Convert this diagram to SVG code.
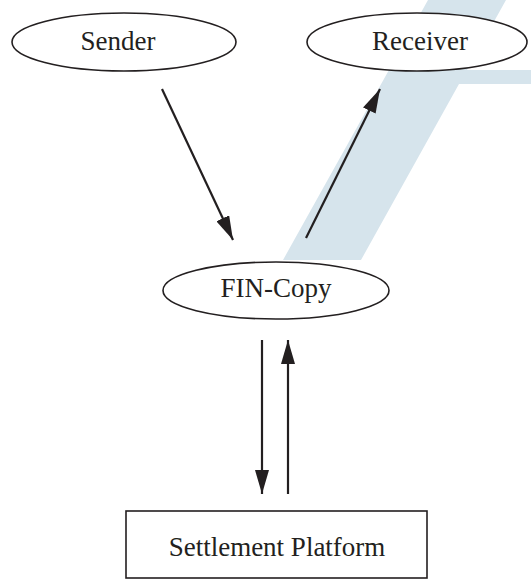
<svg xmlns="http://www.w3.org/2000/svg" width="531" height="579" viewBox="0 0 531 579">
  <defs>
    <marker id="ah" viewBox="0 0 24 14" refX="24" refY="7" markerWidth="24" markerHeight="14" markerUnits="userSpaceOnUse" orient="auto">
      <path d="M0,0 L24,7 L0,14 z" fill="#231f20"/>
    </marker>
    <style>
      .node { fill: #ffffff; stroke: #231f20; stroke-width: 1.6; }
      .lbl { font-family: "Liberation Serif", "Times New Roman", serif; font-size: 27px; fill: #231f20; text-anchor: middle; }
      .conn { stroke: #231f20; stroke-width: 2.2; fill: none; marker-end: url(#ah); }
    </style>
  </defs>
  <rect x="0" y="0" width="531" height="579" fill="#ffffff"/>
  <polygon id="band" points="428,0 506,0 467,70 531,70 531,84 459,84 361,260 283,260" fill="#d6e4ec"/>
  <g id="sender">
    <ellipse class="node" cx="124" cy="42" rx="112" ry="29"/>
    <text class="lbl" x="118" y="50">Sender</text>
  </g>
  <g id="receiver">
    <ellipse class="node" cx="417" cy="42" rx="110" ry="29"/>
    <text class="lbl" x="420" y="50">Receiver</text>
  </g>
  <g id="fincopy">
    <ellipse class="node" cx="276" cy="290.5" rx="113" ry="28.5"/>
    <text class="lbl" x="276" y="297">FIN-Copy</text>
  </g>
  <g id="settlement">
    <rect class="node" x="126" y="511" width="301" height="67"/>
    <text class="lbl" x="277" y="556">Settlement Platform</text>
  </g>
  <g id="connectors">
    <line class="conn" x1="162" y1="89" x2="233" y2="240"/>
    <line class="conn" x1="306" y1="238" x2="380" y2="89"/>
    <line class="conn" x1="262" y1="340" x2="262" y2="494"/>
    <line class="conn" x1="288" y1="494" x2="288" y2="340"/>
  </g>
</svg>
